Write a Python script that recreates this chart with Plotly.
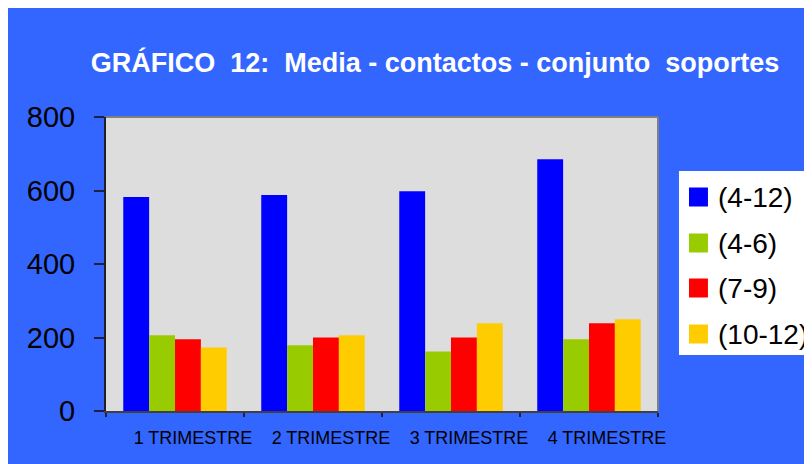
import plotly.graph_objects as go

categories = ["1 TRIMESTRE", "2 TRIMESTRE", "3 TRIMESTRE", "4 TRIMESTRE"]
series_names = ["(4-12)", "(4-6)", "(7-9)", "(10-12)"]
vals_4_12 = [582, 588, 598, 685]
vals_4_6 = [206, 179, 162, 195]
vals_7_9 = [195, 200, 200, 239]
vals_10_12 = [173, 206, 239, 250]
y_ticks = [0, 200, 400, 600, 800]
title_text = "GRÁFICO\u00a0\u00a012:\u00a0\u00a0Media - contactos - conjunto\u00a0\u00a0soportes"

colors = ["#0000FF", "#99CC00", "#FF0000", "#FFCC00"]
series_values = [vals_4_12, vals_4_6, vals_7_9, vals_10_12]

# page body has an 8px margin; positions below are figure pixels
OFF = 8
W, H = 812 - OFF, 464 - OFF
L, R, T, B = 105.5 - OFF, 658 - OFF, 117 - OFF, 411 - OFF
PW, PH = R - L, B - T

def px_x(p):
    return (p - OFF - L) / PW

def px_y(p):
    return (B - (p - OFF)) / PH

FONT = "Liberation Sans, Arial, sans-serif"

fig = go.Figure()
for name, vals, col in zip(series_names, series_values, colors):
    fig.add_trace(go.Bar(x=categories, y=vals, name=name, marker=dict(color=col, line=dict(width=0))))

shapes = [
    dict(type="line", xref="paper", yref="paper", x0=0, x1=1, y0=1, y1=1, line=dict(color="#808080", width=2)),
    dict(type="line", xref="paper", yref="paper", x0=1, x1=1, y0=0, y1=1, line=dict(color="#808080", width=2)),
    dict(type="rect", xref="paper", yref="paper", x0=px_x(679), x1=px_x(820), y0=px_y(355), y1=px_y(171),
         fillcolor="white", line=dict(width=0)),
]
annotations = []
centers = [197, 243, 288, 334]
for name, col, cy in zip(series_names, colors, centers):
    shapes.append(dict(type="rect", xref="paper", yref="paper", x0=px_x(689), x1=px_x(708),
                       y0=px_y(cy + 9.5), y1=px_y(cy - 9.5), fillcolor=col, line=dict(width=0)))
    annotations.append(dict(text=name, xref="paper", yref="paper", x=px_x(716), y=px_y(cy),
                            xanchor="left", yanchor="middle", showarrow=False,
                            font=dict(family=FONT, size=28, color="black")))

fig.update_layout(
    width=W, height=H,
    margin=dict(l=L, r=W - R, t=T, b=H - B, pad=0),
    paper_bgcolor="#3366FF",
    plot_bgcolor="#DDDDDD",
    barmode="group", bargap=0.25, bargroupgap=0,
    showlegend=False,
    title=dict(text=title_text, x=(435 - OFF) / W, xref="container", xanchor="center",
               y=1 - (63 - OFF) / H, yref="container", yanchor="middle",
               font=dict(family=FONT, size=27, color="white", weight="bold")),
    shapes=shapes,
    annotations=annotations,
    font=dict(family=FONT, color="black"),
)
fig.update_yaxes(range=[0, 800], tickvals=y_ticks, showgrid=False, zeroline=False,
                 showline=True, linecolor="#202020", linewidth=2,
                 ticks="outside", ticklen=10, tickcolor="#202040", tickwidth=1.5,
                 ticklabelstandoff=13, tickfont=dict(family=FONT, size=29, color="black"))
fig.update_xaxes(showgrid=False, showline=True, linecolor="#404040", linewidth=2,
                 ticks="outside", tickson="boundaries", ticklen=4, tickcolor="#202040", tickwidth=1.5,
                 ticklabelstandoff=9, ticklabelshift=18,
                 tickfont=dict(family=FONT, size=18, color="black"))

fig.write_html("out.html")
